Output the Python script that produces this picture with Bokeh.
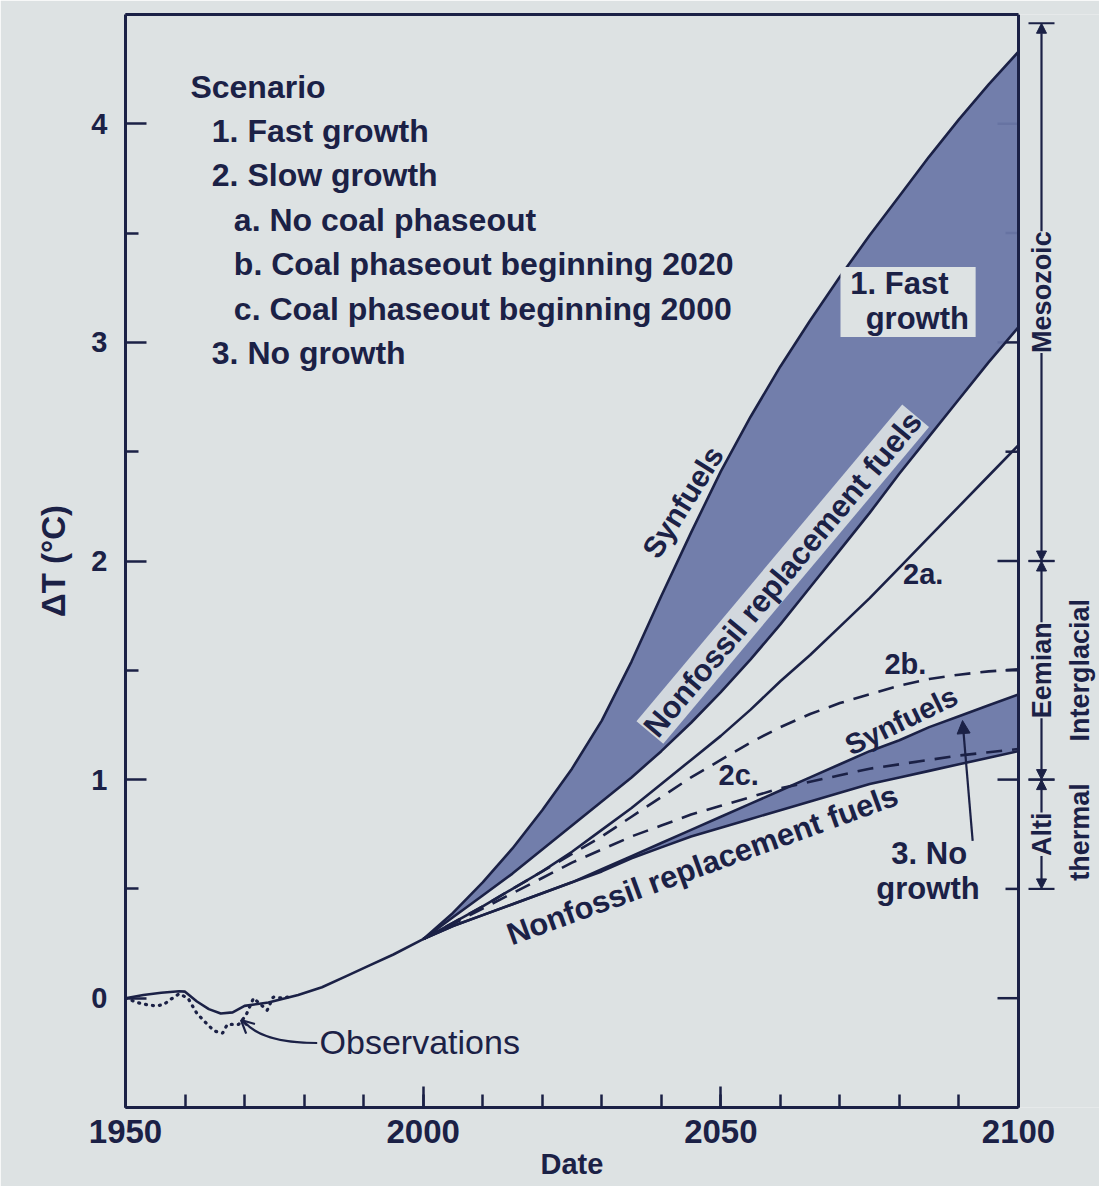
from bokeh.plotting import figure
from bokeh.models import (Range1d, LinearAxis, FixedTicker, Label, Arrow, Span, Title,
                          NormalHead, OpenHead, TeeHead, BoxAnnotation)
from bokeh.embed import file_html
from bokeh.resources import INLINE

BG = "#dde2e3"
INK = "#1b2146"
BAND = "#6c78a8"
FONT = "Liberation Sans"

# ---------------- data ----------------
proj_years = [2000, 2005, 2010, 2015, 2020, 2025, 2030, 2035, 2040, 2045, 2050,
              2055, 2060, 2065, 2070, 2075, 2080, 2085, 2090, 2095, 2100]
fast_synfuels = [0.27, 0.39, 0.53, 0.685, 0.86, 1.05, 1.27, 1.54, 1.84, 2.13, 2.41,
                 2.66, 2.89, 3.10, 3.30, 3.49, 3.67, 3.85, 4.02, 4.18, 4.33]
fast_nonfossil = [0.27, 0.37, 0.47, 0.57, 0.68, 0.79, 0.90, 1.01, 1.13, 1.26, 1.40,
                  1.55, 1.71, 1.88, 2.05, 2.22, 2.40, 2.57, 2.74, 2.91, 3.07]
slow_2a = [0.27, 0.345, 0.42, 0.50, 0.58, 0.67, 0.77, 0.87, 0.98, 1.09, 1.20,
           1.32, 1.45, 1.57, 1.70, 1.83, 1.97, 2.11, 2.25, 2.39, 2.53]
slow_2b = [0.27, 0.345, 0.42, 0.50, 0.58, 0.66, 0.74, 0.83, 0.92, 1.01, 1.09,
           1.17, 1.24, 1.30, 1.35, 1.39, 1.43, 1.46, 1.48, 1.495, 1.505]
slow_2c = [0.27, 0.34, 0.41, 0.48, 0.55, 0.62, 0.68, 0.74, 0.79, 0.84, 0.88,
           0.92, 0.96, 0.99, 1.02, 1.05, 1.07, 1.09, 1.11, 1.125, 1.14]
nogrowth_synfuels = [0.27, 0.33, 0.38, 0.43, 0.48, 0.53, 0.59, 0.65, 0.71, 0.77, 0.83,
                     0.89, 0.95, 1.01, 1.07, 1.13, 1.18, 1.24, 1.29, 1.34, 1.39]
nogrowth_nonfossil = [0.27, 0.33, 0.38, 0.43, 0.48, 0.53, 0.58, 0.64, 0.69, 0.74, 0.78,
                      0.82, 0.86, 0.90, 0.94, 0.98, 1.01, 1.04, 1.07, 1.10, 1.13]

model_years = [1950, 1953, 1956, 1959, 1960, 1962, 1964, 1966, 1968, 1970,
               1974, 1979, 1983, 1987, 1991, 1995, 2000]
model_dT = [0.0, 0.015, 0.025, 0.032, 0.03, -0.015, -0.05, -0.07, -0.065, -0.035,
            -0.02, 0.015, 0.05, 0.10, 0.15, 0.20, 0.27]

obs_years = [1950, 1952, 1953.6, 1955, 1956.4, 1957.5, 1959, 1960.5, 1962, 1963.4,
             1964.9, 1966.3, 1967.1, 1969, 1970.2, 1971.5, 1973.8, 1974.8, 1976.5, 1978]
obs_dT = [0.0, -0.02, -0.03, -0.035, -0.03, -0.007, 0.02, 0.0, -0.07, -0.11,
          -0.15, -0.16, -0.12, -0.12, -0.08, 0.0, -0.055, 0.005, 0.0, 0.01]

x_major_ticks = [1950, 2000, 2050, 2100]
x_minor_ticks = list(range(1950, 2101, 10))
y_major_ticks = [0, 1, 2, 3, 4]
y_minor_ticks = [-0.5, 0.5, 1.5, 2.5, 3.5, 4.5]

legend_lines = ["Scenario", "1. Fast growth", "2. Slow growth", "a. No coal phaseout",
                "b. Coal phaseout beginning 2020", "c. Coal phaseout beginning 2000",
                "3. No growth"]
legend_indent = [0, 1, 1, 2, 2, 2, 1]

periods = ["Mesozoic", "Eemian", "Alti"]
period_lo = [2.0, 1.0, 0.5]
period_hi = [4.46, 2.0, 1.0]

# ---------------- layout sizes ----------------
W = 1099
H = 1186
TOP = 14
BOTTOM = 79
LEFT = 125
X0, X1 = 1950, 2100
PLOT_W = 893                      # width of the 1950-2100 plotting box in px
PX_PER_YEAR = PLOT_W / (X1 - X0)
X_END = X0 + (W - LEFT) / PX_PER_YEAR   # frame extends right to hold the paleo scale


def px2yr(px):
    return X0 + px / PX_PER_YEAR


y_range = Range1d(-0.5, 4.5)
p = figure(width=W, height=H, x_range=Range1d(X0, X_END), y_range=y_range,
           output_backend="svg", toolbar_location=None,
           min_border_left=LEFT, min_border_right=0, min_border_top=TOP,
           min_border_bottom=BOTTOM, background_fill_color=BG, border_fill_color=BG)
p.xgrid.visible = False
p.ygrid.visible = False
p.outline_line_color = None

xa = p.below[0]
ya = p.left[0]

top_axis = LinearAxis(ticker=FixedTicker(ticks=[]), bounds=(X0, X1))
p.add_layout(top_axis, "above")
top_axis.axis_line_color = INK
top_axis.axis_line_width = 3
top_axis.major_tick_line_color = None
top_axis.minor_tick_line_color = None
top_axis.major_label_text_font_size = "1px"
top_axis.major_label_standoff = 0

for ax in [xa, ya]:
    ax.axis_line_color = INK
    ax.axis_line_width = 3
    ax.major_tick_line_color = INK
    ax.minor_tick_line_color = INK
    ax.major_tick_line_width = 2.5
    ax.minor_tick_line_width = 2.5
    ax.major_tick_in = 21
    ax.major_tick_out = 0
    ax.minor_tick_in = 13
    ax.minor_tick_out = 0
    ax.major_label_text_color = INK
    ax.major_label_text_font = FONT
    ax.major_label_text_font_style = "bold"
    ax.axis_label_text_color = INK
    ax.axis_label_text_font = FONT
    ax.axis_label_text_font_style = "bold"

xa.bounds = (X0, X1)
xa.ticker = FixedTicker(ticks=x_major_ticks, minor_ticks=x_minor_ticks)
xa.major_label_text_font_size = "33px"
xa.major_label_standoff = 12

# x-axis title, centred under the 1950-2100 box (not under the whole frame)
DATE_W = 63
p.add_layout(Title(text="Date", align="left", offset=PLOT_W / 2 - DATE_W / 2,
                   text_font=FONT, text_font_size="29px", text_font_style="bold",
                   text_color=INK, standoff=0), "below")

ya.ticker = FixedTicker(ticks=y_major_ticks, minor_ticks=y_minor_ticks)
ya.major_label_text_font_size = "29px"
ya.major_label_standoff = 18
ya.axis_label = "ΔT (°C)"
ya.axis_label_text_font_size = "33px"
ya.axis_label_standoff = 16

# right-hand axis of the plotting box (at 2100) with inward ticks
p.add_layout(Span(location=X1, dimension="height", line_color=INK, line_width=3))
p.segment(x0=[X1] * len(y_major_ticks), y0=y_major_ticks,
          x1=[X1 - 21 / PX_PER_YEAR] * len(y_major_ticks), y1=y_major_ticks,
          line_color=INK, line_width=2.5)
p.segment(x0=[X1] * len(y_minor_ticks), y0=y_minor_ticks,
          x1=[X1 - 13 / PX_PER_YEAR] * len(y_minor_ticks), y1=y_minor_ticks,
          line_color=INK, line_width=2.5)

# ---------------- bands and curves ----------------
p.varea(x=proj_years, y1=fast_nonfossil, y2=fast_synfuels, fill_color=BAND, fill_alpha=0.95)
p.varea(x=proj_years, y1=nogrowth_nonfossil, y2=nogrowth_synfuels, fill_color=BAND, fill_alpha=0.95)

LW = 2.6
for ys in [fast_synfuels, fast_nonfossil, slow_2a, nogrowth_synfuels, nogrowth_nonfossil]:
    p.line(proj_years, ys, line_color=INK, line_width=LW)
for ys in [slow_2b, slow_2c]:
    p.line(proj_years, ys, line_color=INK, line_width=LW, line_dash="16 10")

p.line(model_years, model_dT, line_color=INK, line_width=LW)
p.line(obs_years, obs_dT, line_color=INK, line_width=3.2, line_dash="1 6", line_cap="round")


def lab(x, y, text, size, angle=0, align="left", bg=None, bg_alpha=1.0, weight="bold"):
    kw = {}
    if bg is not None:
        kw = dict(background_fill_color=bg, background_fill_alpha=bg_alpha)
    l = Label(x=x, y=y, text=text, text_font=FONT, text_font_size=size,
              text_font_style=weight, text_color=INK, angle=angle, angle_units="deg",
              text_align=align, text_baseline="middle", **kw)
    p.add_layout(l)
    return l


# ---------------- legend block ----------------
leg_x0 = 1960.9
leg_y0 = 4.17
leg_dy = 0.203
indent_years = [0, 3.6, 7.3]
for i, (t, ind) in enumerate(zip(legend_lines, legend_indent)):
    lab(leg_x0 + indent_years[ind], leg_y0 - i * leg_dy, t, "32px")

# ---------------- curve labels ----------------
p.add_layout(BoxAnnotation(left=2070.1, right=2092.8, top=3.345, bottom=3.025,
                           fill_color=BG, fill_alpha=1, line_color=None))
lab(2080.0, 3.27, "1. Fast", "31px", align="center")
lab(2083.0, 3.11, "growth", "31px", align="center")

lab(2043.6, 2.27, "Synfuels", "30px", angle=58, align="center")
lab(2060.4, 1.94, "Nonfossil replacement fuels", "31px", angle=50, align="center",
    bg=BG, bg_alpha=0.9)
lab(2084.0, 1.94, "2a.", "29px", align="center")
lab(2081.0, 1.53, "2b.", "29px", align="center")
lab(2053.0, 1.02, "2c.", "29px", align="center")
lab(2080.3, 1.27, "Synfuels", "29px", angle=26, align="center")
lab(2046.9, 0.61, "Nonfossil replacement fuels", "31px", angle=20, align="center")
lab(2085.0, 0.66, "3. No", "31px", align="center")
lab(2084.8, 0.50, "growth", "31px", align="center")
lab(1982.6, -0.20, "Observations", "34px", weight="normal")

# arrows
p.add_layout(Arrow(x_start=2092.3, y_start=0.72, x_end=2090.6, y_end=1.27,
                   line_color=INK, line_width=2.2,
                   end=NormalHead(size=13, fill_color=INK, line_color=INK)))
p.bezier(x0=[1982.2], y0=[-0.205], x1=[1970.0], y1=[-0.11],
         cx0=[1975.5], cy0=[-0.205], cx1=[1972.0], cy1=[-0.17],
         line_color=INK, line_width=2.2)
p.add_layout(Arrow(x_start=1970.4, y_start=-0.125, x_end=1969.4, y_end=-0.10,
                   line_color=INK, line_width=2.2,
                   end=OpenHead(size=13, line_color=INK, line_width=2.2)))

# ---------------- paleo ranges at the right ----------------
x_bar = px2yr(1041 - LEFT)
x_col2 = px2yr(1079 - LEFT)
for name, lo, hi in zip(periods, period_lo, period_hi):
    p.add_layout(Arrow(x_start=x_bar, y_start=lo, x_end=x_bar, y_end=hi,
                       line_color=INK, line_width=2.2,
                       start=NormalHead(size=10, fill_color=INK, line_color=INK),
                       end=NormalHead(size=10, fill_color=INK, line_color=INK)))
    p.add_layout(Arrow(x_start=x_bar, y_start=lo, x_end=x_bar, y_end=hi,
                       line_color=INK, line_width=0, line_alpha=0,
                       start=TeeHead(size=26, line_color=INK, line_width=2.2),
                       end=TeeHead(size=26, line_color=INK, line_width=2.2)))
    lab(x_bar, (lo + hi) / 2, name, "27px", angle=90, align="center", bg=BG)

lab(x_col2, 1.5, "Interglacial", "27px", angle=90, align="center")
lab(x_col2, 0.76, "thermal", "27px", angle=90, align="center")

open("out.html", "w").write(file_html(p, INLINE))
